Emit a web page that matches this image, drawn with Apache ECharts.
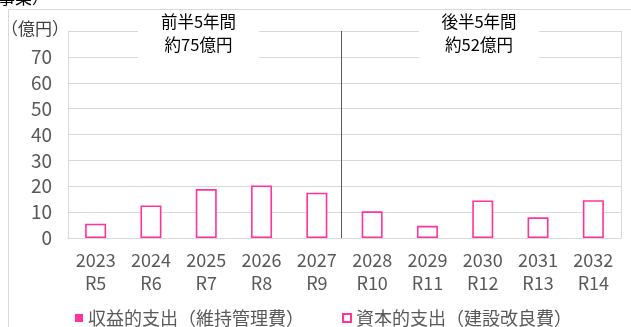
<!DOCTYPE html>
<html>
<head>
<meta charset="utf-8">
<script src="https://cdn.jsdelivr.net/npm/echarts@6/dist/echarts.min.js"></script>
<style>
  html, body { margin: 0; padding: 0; background: #fff; }
  #chart { width: 631px; height: 327px; }
</style>
</head>
<body>
<div id="chart"></div>
<script>
// 年度（西暦・令和）
const years = ['2023', '2024', '2025', '2026', '2027', '2028', '2029', '2030', '2031', '2032'];
const reiwa = ['R5', 'R6', 'R7', 'R8', 'R9', 'R10', 'R11', 'R12', 'R13', 'R14'];

// 収益的支出（維持管理費）・資本的支出（建設改良費） 単位：億円
const maintenance = [0, 0, 0, 0, 0, 0, 0, 0, 0, 0];
const capital = [5.5, 12.6, 18.9, 20.3, 17.5, 10.3, 4.7, 14.5, 8.0, 14.6];

// 縦軸目盛
const yTicks = [0, 10, 20, 30, 40, 50, 60, 70, 80];

// 前半・後半の区切り（R9 と R10 の間）
const splitAt = 4.95;

const PINK = '#ff3399';
const AXIS_TXT = '#595959';
const GRID_LINE = '#d9d9d9';
const NUM_FONT = '"Noto Sans CJK JP", sans-serif';
const JP_FONT = '"Noto Sans CJK JP", sans-serif';

const chart = echarts.init(document.getElementById('chart'), null, { renderer: 'canvas' });

chart.setOption({
  animation: false,
  backgroundColor: '#fff',
  grid: { left: 68, right: 10, top: 31, bottom: 89, show: false },
  legend: {
    left: 70,
    top: 304,
    itemWidth: 8,
    itemHeight: 8,
    itemGap: 38,
    icon: 'rect',
    textStyle: { color: AXIS_TXT, fontSize: 18, fontFamily: JP_FONT },
    data: ['収益的支出（維持管理費）', '資本的支出（建設改良費）']
  },
  xAxis: [{
    type: 'category',
    data: years,
    axisLine: { show: true, lineStyle: { color: GRID_LINE, width: 1 } },
    axisTick: { show: false },
    axisLabel: {
      interval: 0,
      color: AXIS_TXT,
      fontSize: 18,
      lineHeight: 23,
      margin: 11,
      fontFamily: NUM_FONT,
      formatter: (v, i) => v + '\n' + reiwa[i]
    }
  }, {
    type: 'value',
    min: 0,
    max: years.length,
    show: false
  }],
  yAxis: {
    type: 'value',
    min: yTicks[0],
    max: yTicks[yTicks.length - 1],
    interval: 10,
    axisLine: { show: true, lineStyle: { color: GRID_LINE } },
    axisTick: { show: false },
    splitLine: { show: true, lineStyle: { color: GRID_LINE, width: 1 } },
    axisLabel: {
      color: AXIS_TXT,
      fontSize: 19,
      margin: 16,
      fontFamily: NUM_FONT,
      formatter: v => (v === yTicks[yTicks.length - 1] ? '' : String(v))
    }
  },
  series: [{
    name: '収益的支出（維持管理費）',
    type: 'bar',
    stack: 'cost',
    barWidth: 21,
    data: maintenance,
    itemStyle: { color: PINK }
  }, {
    name: '資本的支出（建設改良費）',
    type: 'bar',
    stack: 'cost',
    barWidth: 21,
    data: capital,
    itemStyle: { color: '#ffffff', borderColor: PINK, borderWidth: 1.6 }
  }, {
    // 前半・後半の区切り線
    type: 'line',
    xAxisIndex: 1,
    data: [],
    silent: true,
    markLine: {
      silent: true,
      symbol: 'none',
      label: { show: false },
      lineStyle: { color: '#595959', width: 1, type: 'solid' },
      data: [{ xAxis: splitAt }]
    }
  }],
  graphic: [
    // 外枠
    { type: 'rect', shape: { x: 8.5, y: 9.5, width: 700, height: 400 },
      style: { fill: 'none', stroke: GRID_LINE, lineWidth: 1 }, silent: true, z: 1 },
    // 描画域右端
    { type: 'line', shape: { x1: 621.5, y1: 31, x2: 621.5, y2: 238 },
      style: { stroke: GRID_LINE, lineWidth: 1 }, silent: true, z: 1 },
    // 上部の見出し（一部のみ表示）
    { type: 'text', left: -2, top: -11,
      style: { text: '事業）', fill: '#000', font: '17px ' + JP_FONT }, z: 5 },
    // 単位
    { type: 'text', left: 1, top: 20,
      style: { text: '（億円）', fill: '#404040', font: '17px ' + JP_FONT }, z: 5 },
    // 前半注記
    { type: 'rect', shape: { x: 138, y: 12, width: 121, height: 48 },
      style: { fill: '#fff' }, silent: true, z: 10 },
    { type: 'text', x: 198.5, y: 33.5,
      style: { text: '前半5年間\n約75億円', fill: '#000', font: '16.5px ' + JP_FONT,
               lineHeight: 23, textAlign: 'center', textVerticalAlign: 'middle' }, z: 11 },
    // 後半注記
    { type: 'rect', shape: { x: 419, y: 12, width: 120, height: 48 },
      style: { fill: '#fff' }, silent: true, z: 10 },
    { type: 'text', x: 479, y: 33.5,
      style: { text: '後半5年間\n約52億円', fill: '#000', font: '16.5px ' + JP_FONT,
               lineHeight: 23, textAlign: 'center', textVerticalAlign: 'middle' }, z: 11 }
  ]
});
</script>
</body>
</html>
